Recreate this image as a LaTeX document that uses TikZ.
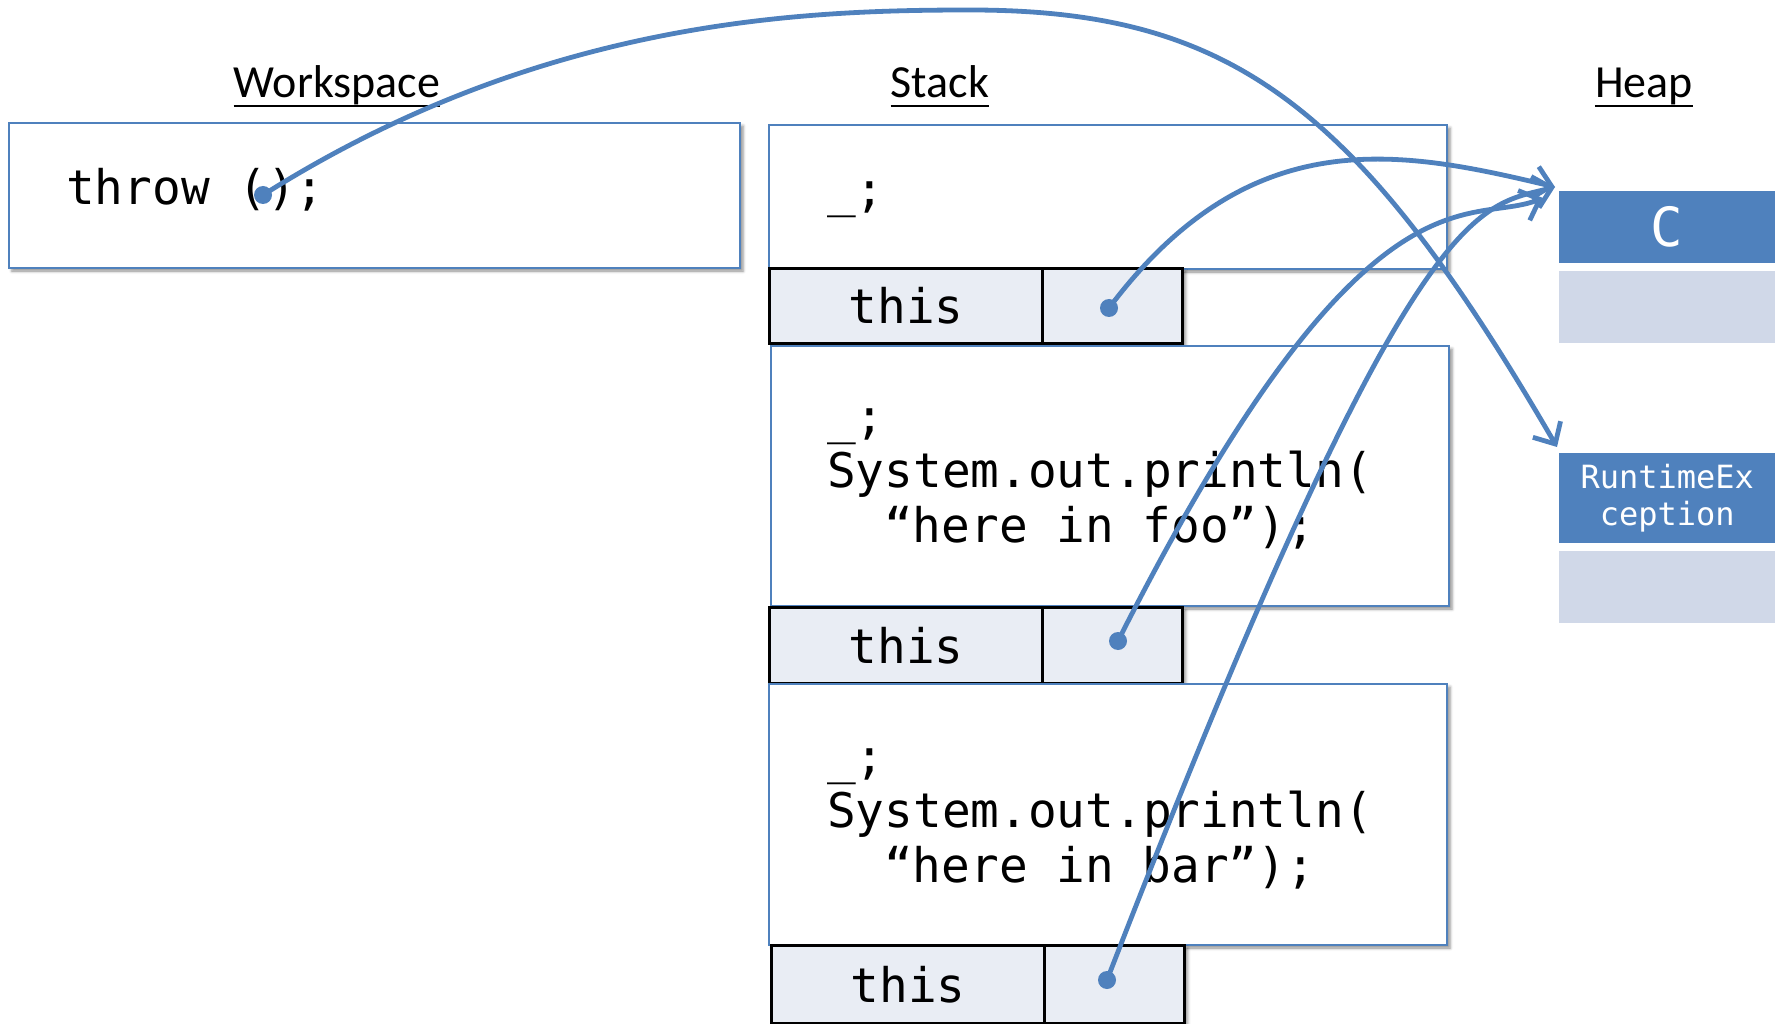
\documentclass[tikz,border=0pt]{standalone}
\usepackage{fontspec}
\setmainfont{Carlito}
\newfontfamily\codefont{DejaVu Sans Mono}
\usetikzlibrary{arrows.meta,shadows.blur}
\definecolor{accent}{HTML}{4F81BD}
\definecolor{cellfill}{HTML}{E9EDF4}
\definecolor{slotfill}{HTML}{D0D8E8}

\tikzset{
  boxshadow/.style={blur shadow={shadow xshift=3pt,shadow yshift=-3pt,shadow blur radius=3pt,shadow opacity=45}},
  frame/.style={draw=accent,line width=2pt,fill=white,anchor=north west,inner sep=0pt,boxshadow},
  cell/.style={draw=black,line width=3pt,fill=cellfill,anchor=north west,inner sep=0pt,boxshadow},
  heapbox/.style={fill=accent,anchor=north west,inner sep=0pt,minimum width=216pt},
  heapslot/.style={fill=slotfill,anchor=north west,inner sep=0pt,minimum width=216pt},
  code/.style={font=\codefont\fontsize{47.7}{54.5}\selectfont,anchor=base west,inner sep=0pt},
  heading/.style={font=\fontsize{46}{50}\selectfont,anchor=base,inner sep=0pt},
  uline/.style={line width=2.5pt},
  ref/.style={draw=accent,line width=4.8pt,-{Straight Barb[length=17pt,width=32pt]}},
  refdot/.style={circle,fill=accent,inner sep=0pt,minimum size=18pt},
}

\begin{document}
\begin{tikzpicture}[x=1pt,y=-1pt]
\useasboundingbox (0,0) rectangle (1781,1024);

% section headings
\node[heading] (hw) at (337,98) {Workspace};
\node[heading] (hst) at (940,98) {Stack};
\node[heading] (hh) at (1644,98) {Heap};
\foreach \h in {hw,hst,hh}
  \draw[uline] ([yshift=-8pt]\h.base west) -- ([yshift=-8pt]\h.base east);

% workspace
\node[frame,minimum width=731pt,minimum height=145pt] (ws) at (8,122) {};
\node[code] (wst) at (66,205) {throw ();};

% stack frames with their "this" slots
\node[frame,minimum width=678pt,minimum height=144pt] (f1) at (768,124) {};
\node[cell,minimum width=273pt,minimum height=75pt] (r1a) at (768,267) {};
\node[cell,minimum width=140pt,minimum height=75pt] (r1b) at (1041,267) {};

\node[frame,minimum width=678pt,minimum height=260pt] (f2) at (770,345) {};
\node[cell,minimum width=273pt,minimum height=76pt] (r2a) at (768,606) {};
\node[cell,minimum width=140pt,minimum height=76pt] (r2b) at (1041,606) {};

\node[frame,minimum width=678pt,minimum height=261pt] (f3) at (768,683) {};
\node[cell,minimum width=273pt,minimum height=78pt] (r3a) at (770,944) {};
\node[cell,minimum width=140pt,minimum height=78pt] (r3b) at (1043,944) {};

\node[code] (f1a) at (827,207) {\_;};

\node[code] (f2a) at (827,433) {\_;};
\node[code] (f2b) at (827,487) {System.out.println(};
\node[code] (f2c) at (884,542) {“here in foo”);};

\node[code] (f3a) at (827,773) {\_;};
\node[code] (f3b) at (827,827) {System.out.println(};
\node[code] (f3c) at (884,882) {“here in bar”);};

\node[code,anchor=base] (r1l) at ([yshift=-18pt]r1a.center) {this};
\node[code,anchor=base] (r2l) at ([yshift=-18pt]r2a.center) {this};
\node[code,anchor=base] (r3l) at ([yshift=-18pt]r3a.center) {this};

% heap objects
\node[heapbox,minimum height=72pt] (hc) at (1559,191) {};
\node[heapslot,minimum height=72pt] (hcs) at (1559,271) {};
\node[heapbox,minimum height=90pt] (hr) at (1559,453) {};
\node[heapslot,minimum height=72pt] (hrs) at (1559,551) {};
\node[text=white,font=\codefont\fontsize{54}{58}\selectfont,inner sep=0pt] (hcl) at (hc.center) {C};
\node[text=white,font=\codefont\fontsize{32}{37}\selectfont,align=center,inner sep=0pt] (hrl) at (hr.center) {RuntimeEx\\ception};

% reference dots
\node[refdot] (tdot) at (263,195) {};
\node[refdot] (d1) at (1109,308) {};
\node[refdot] (d2) at (1118,641) {};
\node[refdot] (d3) at (1107,980) {};

% arrow targets
\coordinate (apex) at (970,10);
\coordinate (tipA) at (1555,187);
\coordinate (tipB) at (1543,198);
\coordinate (tipR) at (1557,447);

% references
\draw[ref] (tdot.center) .. controls +(277,-175) and +(-170,0) .. (apex)
  .. controls +(260,0) and +(-200,-344) .. (tipR);
\draw[ref] (d1.center) .. controls +(141,-188) and +(-155,-37) .. (tipA);
\draw[ref] (d2.center) .. controls +(247,-489) and +(-74,29) .. (tipB);
\draw[ref] (d3.center) .. controls +(306,-790) and +(-78,20) .. (tipA);
\end{tikzpicture}
\end{document}
